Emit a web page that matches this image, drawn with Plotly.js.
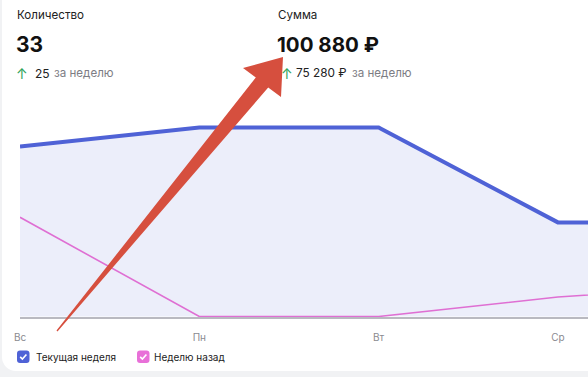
<!DOCTYPE html>
<html>
<head>
<meta charset="utf-8">
<script src="https://cdn.plot.ly/plotly-3.0.1.min.js"></script>
<style>
  html, body { margin: 0; padding: 0; width: 588px; height: 377px; overflow: hidden; background: #f1f2f4; }
  #card { position: absolute; left: 2px; top: -16px; width: 640px; height: 387px; background: #ffffff; border-radius: 14px; }
  #chart { position: absolute; left: 0; top: 0; width: 588px; height: 377px; }
</style>
</head>
<body>
<div id="card"></div>
<div id="chart"></div>
<script>
// ---- data ----
const days = ['Вс', 'Пн', 'Вт', 'Ср', 'Чт'];
const currentWeek = [8.99, 10, 10, 4.98, 4.98];
const weekAgo = [5.25, 0, 0, 1.03, 1.65];
const seriesNames = ['Текущая неделя', 'Неделю назад'];
const countLabel = 'Количество';
const countValue = '33';
const countDelta = '25';
const sumLabel = 'Сумма';
const sumValue = '100 880 ₽';
const sumDelta = '75 280 ₽';
const deltaSuffix = 'за неделю';

// ---- geometry helpers (pixel -> paper) ----
const W = 588, H = 377, L = 20, R = 0, T = 100, BM = 60;
const PW = W - L - R, PH = H - T - BM, B0 = H - BM;
const fx = x => (x - L) / PW;
const fy = y => (B0 - y) / PH;
const P = (x, y) => fx(x).toFixed(5) + ',' + fy(y).toFixed(5);
function roundRect(x0, y0, w, h, r) {
  return `M ${P(x0 + r, y0)} L ${P(x0 + w - r, y0)} Q ${P(x0 + w, y0)} ${P(x0 + w, y0 + r)} ` +
    `L ${P(x0 + w, y0 + h - r)} Q ${P(x0 + w, y0 + h)} ${P(x0 + w - r, y0 + h)} ` +
    `L ${P(x0 + r, y0 + h)} Q ${P(x0, y0 + h)} ${P(x0, y0 + h - r)} ` +
    `L ${P(x0, y0 + r)} Q ${P(x0, y0)} ${P(x0 + r, y0)} Z`;
}

const blue = '#4f62d6';
const pink = '#df6fd3';
const font = 'Inter, Roboto, "Noto Sans", sans-serif';

const traces = [
  {
    x: days, y: currentWeek, name: seriesNames[0], type: 'scatter', mode: 'lines',
    line: { color: blue, width: 4 }, fill: 'tozeroy', fillcolor: '#eceefa',
    hoverinfo: 'skip', showlegend: false
  },
  {
    x: days, y: weekAgo, name: seriesNames[1], type: 'scatter', mode: 'lines',
    line: { color: pink, width: 1.6 }, hoverinfo: 'skip', showlegend: false
  }
];

function ann(x, y, text, size, color, bold) {
  return {
    xref: 'paper', yref: 'paper', x: fx(x), y: fy(y), xanchor: 'left', yanchor: 'middle',
    text: bold ? '<b>' + text + '</b>' : text, showarrow: false,
    font: { family: font, size: size, color: color }
  };
}

const annotations = [
  ann(15, 15, countLabel, 11.6, '#222'),
  ann(14, 44, countValue, 21, '#111', true),
  ann(14, 73, '↑', 14, '#2ea35a'),
  ann(33, 73, countDelta, 12, '#222'),
  ann(52, 73, deltaSuffix, 11.6, '#7d7d84'),
  ann(276, 15, sumLabel, 11.6, '#222'),
  ann(275, 44, sumValue, 20.5, '#111', true),
  ann(279, 73, '↑', 14, '#2ea35a'),
  ann(294, 73, sumDelta, 11.8, '#222'),
  ann(350, 73, deltaSuffix, 11.6, '#7d7d84'),
  ann(34, 357, seriesNames[0], 10, '#222'),
  ann(152, 357, seriesNames[1], 10, '#222')
];

// arrow overlay (screenshot markup)
const tip = [283, 57], hl = [243, 68], hr = [281, 97];
const bl = [255.8, 77.4], br = [268.2, 87.6], tl = [56.5, 330.6], tr = [57.5, 331.4];
const arrowPath = `M ${P(...tl)} L ${P(...bl)} L ${P(...hl)} L ${P(...tip)} L ${P(...hr)} L ${P(...br)} L ${P(...tr)} Z`;

function check(cx, cy) {
  return `M ${P(cx - 3, cy + 0.2)} L ${P(cx - 0.8, cy + 2.4)} L ${P(cx + 3.2, cy - 2.2)}`;
}

const shapes = [
  { type: 'path', xref: 'paper', yref: 'paper', path: roundRect(17, 350.5, 12.5, 12.5, 3), fillcolor: blue, line: { width: 0 } },
  { type: 'path', xref: 'paper', yref: 'paper', path: check(23.2, 356.7), line: { color: '#fff', width: 1.6 } },
  { type: 'path', xref: 'paper', yref: 'paper', path: roundRect(137, 350.5, 12.5, 12.5, 3), fillcolor: '#e870d8', line: { width: 0 } },
  { type: 'path', xref: 'paper', yref: 'paper', path: check(143.2, 356.7), line: { color: '#fff', width: 1.6 } },
  { type: 'path', xref: 'paper', yref: 'paper', path: arrowPath, fillcolor: '#d64f3e', line: { width: 0 }, layer: 'above' }
];

const unit = (B0 - 128) / 10;
const layout = {
  width: W, height: H,
  margin: { l: L, r: R, t: T, b: BM, pad: 0 },
  paper_bgcolor: 'rgba(0,0,0,0)', plot_bgcolor: 'rgba(0,0,0,0)',
  showlegend: false,
  xaxis: {
    type: 'category', range: [0, PW / 179.3],
    showgrid: false, zeroline: false, showline: true, linecolor: '#b9b9c0', linewidth: 2,
    ticks: '', ticklabelstandoff: 10, layer: 'below traces',
    tickfont: { family: font, size: 10, color: '#8a8a90' }, fixedrange: true
  },
  yaxis: {
    range: [-0.5 / unit, -0.5 / unit + PH / unit],
    showgrid: false, zeroline: false, showline: false, showticklabels: false, fixedrange: true
  },
  annotations: annotations,
  shapes: shapes
};

Plotly.newPlot('chart', traces, layout, { displayModeBar: false, staticPlot: true });
</script>
</body>
</html>
